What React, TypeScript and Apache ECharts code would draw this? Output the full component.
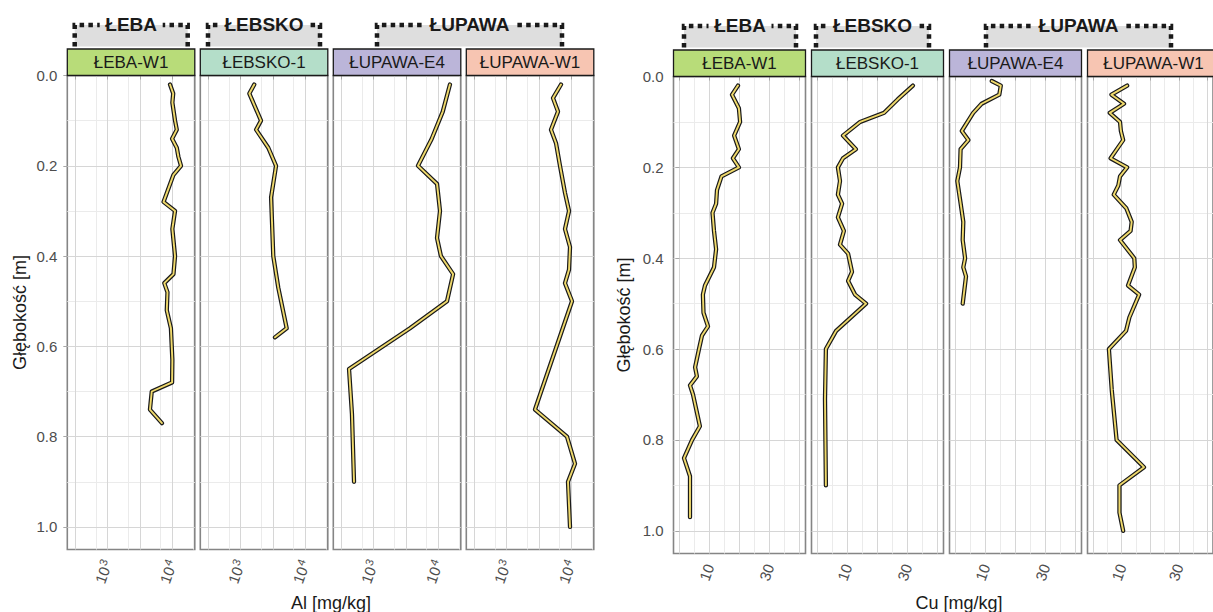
import React, { useEffect, useRef } from 'react';
import * as echarts from 'echarts';

// ---------- data ----------
const panelNames = ['ŁEBA-W1', 'ŁEBSKO-1', 'ŁUPAWA-E4', 'ŁUPAWA-W1'];
const groupNames = ['ŁEBA', 'ŁEBSKO', 'ŁUPAWA'];

const depthTicks = [0, 0.2, 0.4, 0.6, 0.8, 1.0];
const depthMinor = [0.1, 0.3, 0.5, 0.7, 0.9];

// Al [mg/kg] (log scale) — tick exponents
const alMajorExp = [2.5, 3, 3.5, 4];
const alLabelExp = [3, 4];

// Cu [mg/kg] (linear)
const cuMajor = [0, 10, 20, 30, 40];
const cuLabels = [10, 30];
const cuMinor = [5, 15, 25, 35];

// Al series
const alLebaW1Depth = [0.02, 0.04, 0.06, 0.10, 0.12, 0.14, 0.16, 0.18, 0.20, 0.22, 0.28, 0.30, 0.34, 0.40, 0.44, 0.46, 0.48, 0.52, 0.56, 0.63, 0.68, 0.70, 0.74, 0.77];
const alLebaW1 = [9200, 10300, 10000, 11000, 11700, 9900, 11700, 12400, 13600, 10400, 7300, 11000, 10000, 11000, 10400, 7500, 8400, 8200, 9500, 10000, 9900, 4800, 4500, 6900];

const alLebskoDepth = [0.02, 0.04, 0.10, 0.12, 0.16, 0.20, 0.27, 0.40, 0.47, 0.56, 0.58];
const alLebsko = [1620, 1360, 2060, 1730, 2670, 3520, 2950, 3190, 3810, 5140, 3390];

const alLupawaE4Depth = [0.02, 0.08, 0.14, 0.20, 0.24, 0.30, 0.36, 0.40, 0.44, 0.50, 0.56, 0.65, 0.75, 0.90];
const alLupawaE4 = [15100, 11700, 7900, 4840, 9530, 10600, 9530, 10950, 16900, 13600, 3640, 415, 461, 496];

const alLupawaW1Depth = [0.02, 0.05, 0.08, 0.12, 0.15, 0.20, 0.26, 0.30, 0.34, 0.38, 0.43, 0.46, 0.50, 0.74, 0.80, 0.86, 0.90, 1.00];
const alLupawaW1 = [6920, 5200, 6210, 4840, 5790, 6670, 7970, 9200, 7970, 9530, 9200, 7970, 10230, 2740, 8560, 11380, 8870, 9530];

// Cu series
const cuLebaW1Depth = [0.02, 0.04, 0.07, 0.10, 0.13, 0.16, 0.18, 0.20, 0.22, 0.25, 0.28, 0.30, 0.34, 0.38, 0.42, 0.46, 0.48, 0.52, 0.55, 0.57, 0.60, 0.64, 0.66, 0.68, 0.70, 0.77, 0.80, 0.84, 0.88, 0.97];
const cuLebaW1 = [19.5, 17.5, 19.8, 20.2, 18.2, 19.8, 17.8, 19.8, 14.0, 12.5, 12.2, 11.0, 11.5, 12.2, 11.5, 8.5, 7.8, 8.0, 9.5, 7.5, 6.5, 5.2, 5.8, 3.5, 4.5, 6.8, 4.2, 1.5, 3.5, 3.5];

const cuLebskoDepth = [0.02, 0.05, 0.08, 0.10, 0.13, 0.16, 0.18, 0.20, 0.23, 0.26, 0.28, 0.31, 0.34, 0.37, 0.39, 0.43, 0.45, 0.48, 0.50, 0.56, 0.60, 0.71, 0.90];
const cuLebsko = [31.8, 26.8, 22.2, 14.2, 8.5, 12.8, 8.5, 6.8, 7.5, 6.8, 8.2, 6.8, 8.8, 7.5, 10.2, 11.5, 10.2, 12.5, 16.2, 6.2, 2.8, 2.5, 2.8];

const cuLupawaE4Depth = [0.01, 0.02, 0.04, 0.06, 0.08, 0.12, 0.14, 0.16, 0.20, 0.23, 0.27, 0.32, 0.36, 0.40, 0.42, 0.44, 0.50];
const cuLupawaE4 = [12.1, 15.1, 14.6, 8.7, 5.9, 2.1, 4.3, 1.7, 1.5, 0.6, 1.5, 2.6, 2.4, 3.2, 2.6, 3.5, 2.4];

const cuLupawaW1Depth = [0.02, 0.04, 0.06, 0.08, 0.10, 0.12, 0.14, 0.18, 0.20, 0.22, 0.24, 0.26, 0.29, 0.32, 0.34, 0.36, 0.40, 0.42, 0.46, 0.48, 0.53, 0.56, 0.60, 0.69, 0.80, 0.86, 0.90, 0.96, 1.00];
const cuLupawaW1 = [11.9, 6.4, 10.8, 5.8, 9.4, 9.7, 10.5, 6.1, 11.9, 9.4, 8.8, 7.2, 11.6, 13.5, 13.1, 9.4, 14.4, 14.6, 12.2, 16.1, 12.7, 11.5, 5.5, 6.5, 8.2, 17.8, 9.2, 9.2, 10.5];

const alSeries = [
  { depth: alLebaW1Depth, values: alLebaW1 },
  { depth: alLebskoDepth, values: alLebsko },
  { depth: alLupawaE4Depth, values: alLupawaE4 },
  { depth: alLupawaW1Depth, values: alLupawaW1 },
];
const cuSeries = [
  { depth: cuLebaW1Depth, values: cuLebaW1 },
  { depth: cuLebskoDepth, values: cuLebsko },
  { depth: cuLupawaE4Depth, values: cuLupawaE4 },
  { depth: cuLupawaW1Depth, values: cuLupawaW1 },
];

// ---------- styles ----------
const FONT = '"Liberation Sans", Arial, Helvetica, sans-serif';
const stripColors = ['#b8dc79', '#b4dec9', '#bbb5d9', '#f7c5b2'];
const LINE_DARK = '#1a1a1a';
const LINE_FILL = '#efd96c';
const GRID_MAJOR = '#d6d6d6';
const GRID_MINOR = '#ebebeb';
const BORDER = '#858585';
const TICK = '#a8a8a8';
const LABEL = '#4d4d4d';

const charts = [
  {
    x0: 67.3, step: 133, w: 127.5, top: 75.5, h: 474,
    stripTop: 49, headTop: 25, headBot: 46.5,
    heads: [[74.7, 187.7, 55], [208, 320, 80], [377, 562, 82]],
    xTitle: 'Al [mg/kg]', xTitleX: 331, yTitleX: 20,
  },
  {
    x0: 673.5, step: 138, w: 132, top: 76.5, h: 477,
    stripTop: 50, headTop: 26, headBot: 47.5,
    heads: [[684, 796, 55], [816, 929, 80], [986, 1171, 82]],
    xTitle: 'Cu [mg/kg]', xTitleX: 959, yTitleX: 624,
  },
];

function buildOption() {
  const grid: any[] = [];
  const xAxis: any[] = [];
  const yAxis: any[] = [];
  const series: any[] = [];
  const graphic: any[] = [];

  const alMinorExp: number[] = [];
  for (let i = 0; i < alMajorExp.length; i++) {
    const a = Math.pow(10, alMajorExp[i]);
    const b = Math.pow(10, (alMajorExp[i + 1] !== undefined ? alMajorExp[i + 1] : alMajorExp[i] + 0.5));
    alMinorExp.push(Math.log10((a + b) / 2));
  }

  charts.forEach((c, ci) => {
    const isAl = ci === 0;
    const data = isAl ? alSeries : cuSeries;
    for (let p = 0; p < 4; p++) {
      const k = ci * 4 + p;
      const left = c.x0 + c.step * p;
      grid.push({
        left, top: c.top, width: c.w, height: c.h,
        show: true, borderColor: BORDER, borderWidth: 1.6,
        backgroundColor: 'transparent', containLabel: false,
      });
      const xmin = isAl ? 2.375 : -2;
      const xmax = isAl ? 4.347 : 42;
      xAxis.push({
        type: 'value', gridIndex: k, min: xmin, max: xmax, position: 'bottom', z: 1,
        axisLine: { show: false },
        axisTick: { show: true, length: 4, lineStyle: { color: TICK, width: 1 }, customValues: isAl ? alMajorExp : cuMajor },
        axisLabel: {
          show: true, customValues: isAl ? alLabelExp : cuLabels, rotate: 70, margin: 11,
          color: LABEL, fontSize: 15, fontFamily: FONT,
          formatter: isAl ? (v: number) => `{b|10}{s|${Math.round(v)}}` : (v: number) => `${v}`,
          rich: {
            b: { fontSize: 15, color: LABEL, fontFamily: FONT },
            s: { fontSize: 11, color: LABEL, fontFamily: FONT, verticalAlign: 'top', padding: [0, 0, 7, 1] },
          },
        },
        splitLine: { show: true, lineStyle: { color: GRID_MAJOR, width: 1 } },
      });
      xAxis.push({
        type: 'value', gridIndex: k, min: xmin, max: xmax, position: 'bottom', z: 0,
        axisLine: { show: false },
        axisTick: { show: false, customValues: isAl ? alMinorExp : cuMinor },
        axisLabel: { show: false },
        splitLine: { show: true, lineStyle: { color: GRID_MINOR, width: 1 } },
      });
      yAxis.push({
        type: 'value', gridIndex: k, min: 0, max: 1.05, inverse: true, z: 1,
        axisLine: { show: false },
        axisTick: { show: p === 0, length: 4, lineStyle: { color: TICK, width: 1 }, customValues: depthTicks },
        axisLabel: {
          show: p === 0, customValues: depthTicks, margin: 10,
          color: LABEL, fontSize: 15, fontFamily: FONT,
          formatter: (v: number) => v.toFixed(1),
        },
        splitLine: { show: true, lineStyle: { color: GRID_MAJOR, width: 1 } },
      });
      yAxis.push({
        type: 'value', gridIndex: k, min: 0, max: 1.05, inverse: true, z: 0,
        axisLine: { show: false },
        axisTick: { show: false, customValues: depthMinor },
        axisLabel: { show: false },
        splitLine: { show: true, lineStyle: { color: GRID_MINOR, width: 1 } },
      });

      const d = data[p];
      const pts = d.values.map((v, i) => [isAl ? Math.log10(v) : v, d.depth[i]]);
      series.push({
        type: 'line', xAxisIndex: 2 * k, yAxisIndex: 2 * k, data: pts, symbol: 'none', silent: true, z: 3,
        lineStyle: { color: LINE_DARK, width: 4.3, cap: 'round', join: 'round' },
      });
      series.push({
        type: 'line', xAxisIndex: 2 * k, yAxisIndex: 2 * k, data: pts, symbol: 'none', silent: true, z: 4,
        lineStyle: { color: LINE_FILL, width: 1.9, cap: 'round', join: 'round' },
      });

      // strip
      graphic.push({
        type: 'rect', z: 100,
        shape: { x: left, y: c.stripTop, width: c.w, height: c.top - c.stripTop },
        style: { fill: stripColors[p], stroke: '#1a1a1a', lineWidth: 1.3 },
      });
      graphic.push({
        type: 'text', z: 101, x: left + c.w / 2, y: (c.stripTop + c.top) / 2 + 0.5,
        style: { text: panelNames[p], fill: '#1a1a1a', fontSize: 17, fontFamily: FONT, align: 'center', verticalAlign: 'middle' },
      });
    }

    // group headers
    c.heads.forEach((h, hi) => {
      const [x1, x2, tw] = h;
      const cx = (x1 + x2) / 2;
      graphic.push({
        type: 'rect', z: 100,
        shape: { x: x1, y: c.headTop, width: x2 - x1, height: c.headBot - c.headTop },
        style: { fill: '#dedede' },
      });
      const dash = { stroke: '#1a1a1a', lineWidth: 4.5, lineDash: [4.5, 4.3], fill: null, lineCap: 'butt' };
      graphic.push({
        type: 'polyline', z: 101,
        shape: { points: [[x1, c.headBot], [x1, c.headTop], [cx - tw / 2 - 4, c.headTop]] },
        style: dash,
      });
      graphic.push({
        type: 'polyline', z: 101,
        shape: { points: [[x2, c.headBot], [x2, c.headTop], [cx + tw / 2 + 4, c.headTop]] },
        style: dash,
      });
      graphic.push({
        type: 'text', z: 102, x: cx, y: c.headTop - 1,
        style: { text: groupNames[hi], fill: '#1a1a1a', fontSize: 19, fontWeight: 'bold', fontFamily: FONT, align: 'center', verticalAlign: 'middle' },
      });
    });

    // axis titles
    graphic.push({
      type: 'text', z: 100, x: c.xTitleX, y: 603,
      style: { text: c.xTitle, fill: '#1a1a1a', fontSize: 18, fontFamily: FONT, align: 'center', verticalAlign: 'middle' },
    });
    graphic.push({
      type: 'text', z: 100, x: c.yTitleX, y: c.top + c.h / 2, rotation: Math.PI / 2,
      style: { text: 'Głębokość [m]', fill: '#1a1a1a', fontSize: 18, fontFamily: FONT, align: 'center', verticalAlign: 'middle' },
    });
  });

  return {
    animation: false,
    backgroundColor: '#ffffff',
    textStyle: { fontFamily: FONT },
    grid, xAxis, yAxis, series, graphic,
  };
}

export default function App() {
  const ref = useRef<HTMLDivElement>(null);
  useEffect(() => {
    document.body.style.margin = '0';
    if (!ref.current) return;
    const chart = echarts.init(ref.current, undefined, { renderer: 'svg' });
    chart.setOption(buildOption() as any);
    return () => chart.dispose();
  }, []);
  return <div ref={ref} style={{ width: 1213, height: 612 }} />;
}
